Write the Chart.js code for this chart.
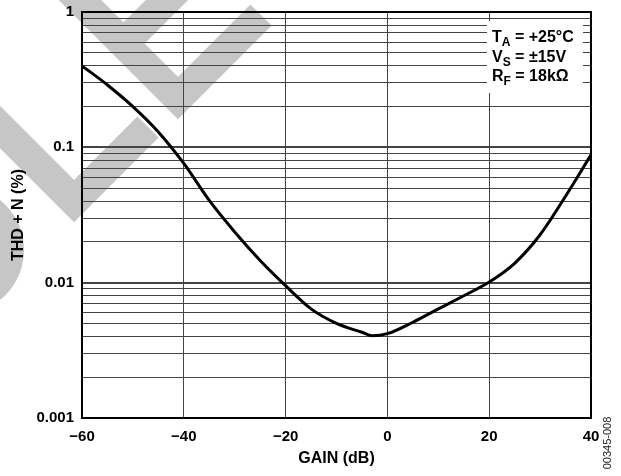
<!DOCTYPE html>
<html>
<head>
<meta charset="utf-8">
<title>THD + N vs Gain</title>
<script src="https://cdn.jsdelivr.net/npm/chart.js@4"></script>
<style>
    html, body { margin: 0; padding: 0; background: #fff; }
    #wrap { width: 621px; height: 476px; }
</style>
</head>
<body>
<div id="wrap"><canvas id="thdChart" width="621" height="476"></canvas></div>
<script>
// Data
const gainDb = [-60, -55, -50, -45, -40, -35, -30, -25, -20, -15, -10, -5, -3, 0, 5, 10, 15, 20, 25, 30, 35, 40];
const thdPercent = [0.40, 0.289, 0.200, 0.130, 0.076, 0.0405, 0.0237, 0.0146, 0.0095, 0.0064, 0.0050, 0.0043, 0.00405,
    0.0042, 0.0051, 0.0064, 0.0080, 0.0101, 0.0139, 0.0226, 0.0435, 0.088];
const xTicks = [-60, -40, -20, 0, 20, 40];
const yDecades = [0.001, 0.01, 0.1, 1];
const conditions = [
    ['T', 'A', ' = +25°C'],
    ['V', 'S', ' = ±15V'],
    ['R', 'F', ' = 18kΩ']
];
const figureId = '00345-008';

const FONT = '"Liberation Sans", Arial, Helvetica, sans-serif';

// all log grid values 1..9 x decade
function logGridValues() {
    const vals = [];
    for (let i = 0; i < yDecades.length - 1; i++) {
        for (let m = 1; m <= 9; m++) vals.push(+(m * yDecades[i]).toPrecision(3));
    }
    vals.push(yDecades[yDecades.length - 1]);
    return vals;
}

function isDecade(v) {
    return yDecades.some(d => Math.abs(v - d) < d * 1e-6);
}

// Watermark behind the grid (gray diagonal strokes)
const watermark = {
    id: 'watermark',
    beforeDraw(chart) {
        const ctx = chart.ctx;
        ctx.save();
        ctx.fillStyle = '#fff';
        ctx.fillRect(0, 0, chart.width, chart.height);
        ctx.strokeStyle = '#c6c6c6';
        ctx.fillStyle = '#c6c6c6';
        ctx.lineWidth = 30;
        ctx.lineCap = 'butt';
        ctx.lineJoin = 'miter';
        // left V
        ctx.beginPath();
        ctx.moveTo(-40, 87);
        ctx.lineTo(74, 201);
        ctx.lineTo(148, 127);
        ctx.stroke();
        // right V
        ctx.beginPath();
        ctx.moveTo(40, -40);
        ctx.lineTo(178, 98);
        ctx.lineTo(261, 15);
        ctx.stroke();
        // short arm
        ctx.beginPath();
        ctx.moveTo(195, -28);
        ctx.lineTo(123.5, 43.5);
        ctx.stroke();
        ctx.beginPath();
        ctx.arc(-40, 250, 64, 0, Math.PI * 2);
        ctx.fill();
        ctx.restore();
    }
};

// Frame, test conditions box and figure number
const extras = {
    id: 'extras',
    afterDraw(chart) {
        const ctx = chart.ctx;
        const a = chart.chartArea;
        ctx.save();
        ctx.strokeStyle = '#000';
        ctx.lineWidth = 2;
        ctx.strokeRect(a.left, a.top, a.right - a.left, a.bottom - a.top);

        ctx.fillStyle = '#fff';
        ctx.fillRect(487, 21, 96, 72);
        ctx.fillStyle = '#000';
        ctx.textBaseline = 'alphabetic';
        let y = 42;
        conditions.forEach(c => {
            let x = 492;
            ctx.font = 'bold 16px ' + FONT;
            ctx.fillText(c[0], x, y);
            x += ctx.measureText(c[0]).width;
            ctx.font = 'bold 12px ' + FONT;
            ctx.fillText(c[1], x, y + 4);
            x += ctx.measureText(c[1]).width;
            ctx.font = 'bold 16px ' + FONT;
            ctx.fillText(c[2], x, y);
            y += 19.5;
        });

        ctx.translate(608, 443);
        ctx.rotate(-Math.PI / 2);
        ctx.font = '11px ' + FONT;
        ctx.fillStyle = '#222';
        ctx.textAlign = 'center';
        ctx.textBaseline = 'middle';
        ctx.fillText(figureId, 0, 0);
        ctx.restore();
    }
};

document.addEventListener('DOMContentLoaded', function() {
    const ctx = document.getElementById('thdChart');
    new Chart(ctx, {
        type: 'line',
        data: {
            datasets: [{
                data: gainDb.map((g, i) => ({ x: g, y: thdPercent[i] })),
                borderColor: '#000',
                borderWidth: 3,
                pointRadius: 0,
                fill: false,
                cubicInterpolationMode: 'monotone'
            }]
        },
        options: {
            responsive: false,
            animation: false,
            devicePixelRatio: 1,
            layout: { padding: { left: 0, top: 12, right: 30, bottom: 0 } },
            plugins: {
                legend: { display: false },
                tooltip: { enabled: false }
            },
            scales: {
                x: {
                    type: 'linear',
                    min: xTicks[0],
                    max: xTicks[xTicks.length - 1],
                    afterFit: s => {
                        s.height = 58;
                        s.paddingLeft = 0;
                        s.paddingRight = 0;
                    },
                    afterBuildTicks: s => { s.ticks = xTicks.map(v => ({ value: v })); },
                    grid: { color: '#444', lineWidth: 1, drawTicks: false },
                    border: { display: true, color: '#000', width: 2 },
                    ticks: {
                        padding: 10,
                        color: '#000',
                        font: { family: FONT, size: 15, weight: 'bold' },
                        callback: v => v < 0 ? '\u2212' + Math.abs(v) : String(v)
                    },
                    title: {
                        display: true,
                        text: 'GAIN (dB)',
                        color: '#000',
                        font: { family: FONT, size: 16, weight: 'bold' },
                        padding: { top: 0, bottom: 8 }
                    }
                },
                y: {
                    type: 'logarithmic',
                    min: yDecades[0],
                    max: yDecades[yDecades.length - 1],
                    afterFit: s => {
                        s.width = 82;
                        s.paddingTop = 0;
                        s.paddingBottom = 0;
                    },
                    afterBuildTicks: s => { s.ticks = logGridValues().map(v => ({ value: v })); },
                    grid: {
                        color: '#444',
                        drawTicks: false,
                        lineWidth: c => (c.tick && isDecade(c.tick.value)) ? 2 : 1
                    },
                    border: { display: true, color: '#000', width: 2 },
                    ticks: {
                        autoSkip: false,
                        padding: 8,
                        color: '#000',
                        font: { family: FONT, size: 15, weight: 'bold' },
                        callback: v => isDecade(v) ? String(+v.toPrecision(3)) : ''
                    },
                    title: {
                        display: true,
                        text: 'THD + N (%)',
                        color: '#000',
                        font: { family: FONT, size: 16, weight: 'bold' },
                        padding: { top: 9, bottom: 0 }
                    }
                }
            }
        },
        plugins: [watermark, extras]
    });
});
</script>
</body>
</html>
